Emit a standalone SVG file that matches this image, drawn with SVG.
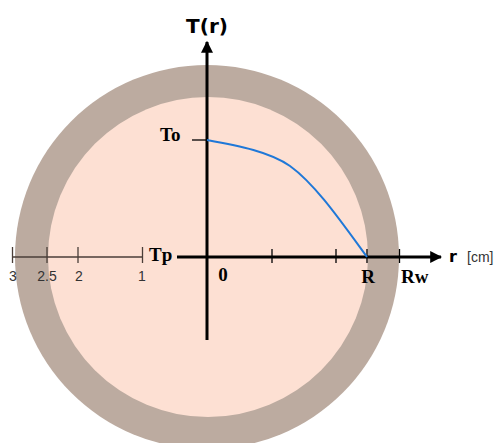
<svg xmlns="http://www.w3.org/2000/svg" width="499" height="443" viewBox="0 0 499 443">
<style>
.ax{stroke:#000;stroke-width:3;fill:none}
.tk{stroke:#000;stroke-width:1.3}
.thin{stroke:#4a3e38;stroke-width:1.3}
.num{font-family:"Liberation Sans",Arial,sans-serif;font-size:14px;fill:#333}
.ser{font-family:"Liberation Serif","Times New Roman",serif;font-weight:bold;font-size:19px;fill:#000}
.sans{font-family:"DejaVu Sans",sans-serif;font-weight:bold;fill:#000}
</style>
<defs>
<marker id="ah" viewBox="0 0 10 10" refX="9" refY="5" markerWidth="4" markerHeight="4" orient="auto" markerUnits="strokeWidth">
<path d="M0,0 L10,5 L0,10 z" fill="#000"/>
</marker>
</defs>
<rect width="499" height="443" fill="#fff"/>
<g id="pipe">
<circle cx="207" cy="257" r="192" fill="#bcaba0"/>
<circle cx="208" cy="257" r="160" fill="#fde0d3"/>
</g>
<g id="connectors">
<line class="ax" x1="207" y1="340" x2="207" y2="42" marker-end="url(#ah)"/>
<line class="ax" x1="177" y1="257" x2="441" y2="257" marker-end="url(#ah)"/>
<line class="thin" x1="12" y1="257" x2="143" y2="257"/>
<line class="thin" x1="12.5" y1="247" x2="12.5" y2="263"/>
<line class="thin" x1="47" y1="247" x2="47" y2="263"/>
<line class="thin" x1="78" y1="247" x2="78" y2="263"/>
<line class="thin" x1="142.5" y1="247" x2="142.5" y2="263"/>
<line class="tk" x1="272" y1="249" x2="272" y2="263"/>
<line class="tk" x1="336" y1="249" x2="336" y2="263"/>
<line class="tk" x1="367" y1="249" x2="367" y2="263"/>
<line class="tk" x1="399.5" y1="249" x2="399.5" y2="263"/>
<line class="tk" x1="192" y1="140" x2="207" y2="140"/>
<path d="M207,140 C240,146 270,152 290,166 C315,184 340,220 367,257" fill="none" stroke="#1f78d8" stroke-width="2"/>
</g>
<g id="labels">
<text class="sans" x="207" y="33" font-size="20" text-anchor="middle">T(r)</text>
<text class="ser" x="160" y="141">To</text>
<text class="ser" x="149" y="261">Tp</text>
<text class="ser" x="223" y="281" text-anchor="middle">0</text>
<text class="ser" x="368" y="283" text-anchor="middle">R</text>
<text class="ser" x="401" y="283">Rw</text>
<text class="sans" x="449" y="262" font-size="16">r</text>
<text class="num" x="467" y="262" font-size="15.5" fill="#555">[cm]</text>
<text class="num" x="13" y="281" text-anchor="middle">3</text>
<text class="num" x="47" y="281" text-anchor="middle">2.5</text>
<text class="num" x="79" y="281" text-anchor="middle">2</text>
<text class="num" x="142" y="281" text-anchor="middle">1</text>
</g>
</svg>
